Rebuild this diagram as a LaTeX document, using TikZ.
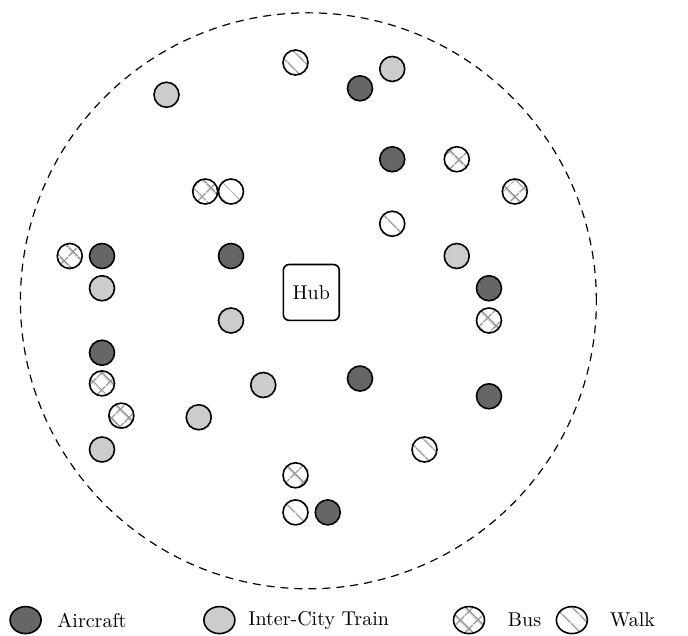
\documentclass[tikz,border=0pt]{standalone}
\usepackage{amsmath}
\usepackage{xcolor}
\usetikzlibrary{patterns.meta,shapes.geometric}

\tikzset{
    mode/.style={circle, draw, thick, minimum size=12.5pt, inner sep=0pt},
    aircraft/.style={mode, fill=black!60},
    train/.style={mode, fill=black!20},
    bus/.style={mode, pattern={Hatch[angle=45, distance=6.5pt, line width=0.8pt]}, pattern color=black!40},
    walk/.style={mode, pattern={Lines[angle=-45, distance=6.5pt, line width=0.8pt]}, pattern color=black!40},
    hub/.style={rectangle, rounded corners=3pt, draw, thick, minimum size=28pt},
    key/.style={ellipse, draw, thick, minimum width=15.5pt, minimum height=13.5pt, inner sep=0pt}
}

\begin{document}
\begin{tikzpicture}[x=0.567cm, y=0.567cm]
    \useasboundingbox (-9.163,-10.783) rectangle (12.171,8.938);

    % Catchment area
    \coordinate (centre) at (0.4,-0.39);
    \draw[dashed, line width=0.6pt, dash pattern=on 4pt off 3pt] (centre) circle (8.93);

    % Hub
    \node[hub] (hub) at (0.49,-0.13) {Hub};

    % Aircraft
    \node[aircraft] (a1) at (2,6.2) {};
    \node[aircraft] (a2) at (3,4) {};
    \node[aircraft] (a3) at (-6,1) {};
    \node[aircraft] (a4) at (-2,1) {};
    \node[aircraft] (a5) at (6,0) {};
    \node[aircraft] (a6) at (-6,-2) {};
    \node[aircraft] (a7) at (2,-2.8) {};
    \node[aircraft] (a8) at (6,-3.35) {};
    \node[aircraft] (a9) at (1,-6.95) {};

    % Inter-city trains
    \node[train] (t1) at (3,6.8) {};
    \node[train] (t2) at (-4,6) {};
    \node[train] (t3) at (5,1) {};
    \node[train] (t4) at (-6,0) {};
    \node[train] (t5) at (-2,-1) {};
    \node[train] (t6) at (-1,-3) {};
    \node[train] (t7) at (-3,-4) {};
    \node[train] (t8) at (-6,-5) {};

    % Buses
    \node[bus] (b1) at (5,4) {};
    \node[bus] (b2) at (-2.8,3) {};
    \node[bus] (b3) at (6.8,3) {};
    \node[bus] (b4) at (-7,1) {};
    \node[bus] (b5) at (6,-1) {};
    \node[bus] (b6) at (-6,-2.95) {};
    \node[bus] (b7) at (-5.4,-3.95) {};
    \node[bus] (b8) at (0,-5.8) {};

    % Walking
    \node[walk] (w1) at (0,7) {};
    \node[walk] (w2) at (-2,3) {};
    \node[walk] (w3) at (3,2) {};
    \node[walk] (w4) at (4,-5) {};
    \node[walk] (w5) at (0,-6.95) {};

    % Legend
    \node[key, fill=black!60] (ka) at (-8.37,-10.29) {};
    \node[anchor=west] (la) at (-7.6,-10.29) {Aircraft};
    \node[key, fill=black!20] (kt) at (-2.36,-10.29) {};
    \node[anchor=west] (lt) at (-1.68,-10.29) {Inter-City Train};
    \node[key, pattern={Hatch[angle=45, distance=6.5pt, line width=0.8pt]}, pattern color=black!40] (kb) at (5.38,-10.29) {};
    \node[anchor=west] (lb) at (6.37,-10.29) {Bus};
    \node[key, pattern={Lines[angle=-45, distance=6.5pt, line width=0.8pt]}, pattern color=black!40] (kw) at (8.57,-10.29) {};
    \node[anchor=west] (lw) at (9.53,-10.29) {Walk};
\end{tikzpicture}
\end{document}
